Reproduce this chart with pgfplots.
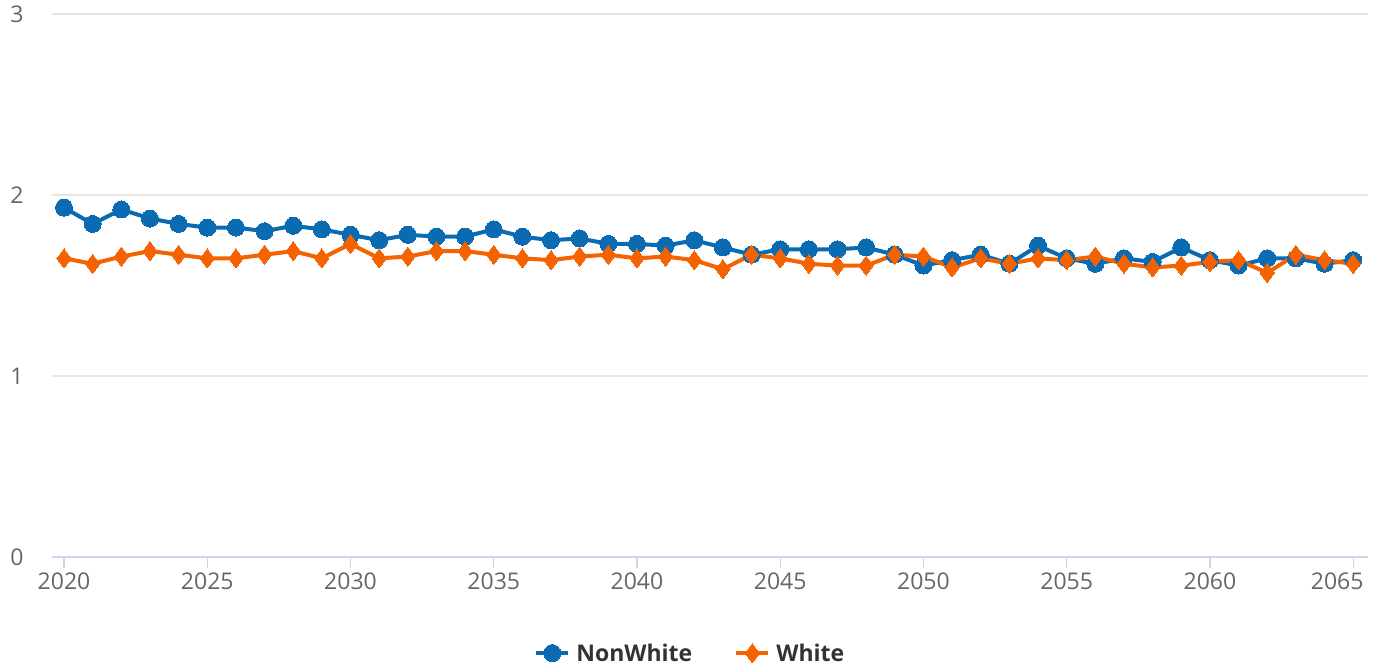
\documentclass[border=0pt]{standalone}
\usepackage{pgfplots}
\pgfplotsset{compat=1.18}
\usepackage{pgfplotstable}
\usepackage{fontspec}
\setmainfont{Open Sans}
\definecolor{nwblue}{HTML}{0A6BB3}
\definecolor{worange}{HTML}{F46300}
\definecolor{gridgray}{HTML}{E6E6E6}
\definecolor{axisblue}{HTML}{CCD6EB}
\definecolor{ticktext}{HTML}{666666}
\definecolor{legtext}{HTML}{333333}

\pgfplotstableread{
year nonwhite white
2020 1.93 1.65
2021 1.84 1.62
2022 1.92 1.66
2023 1.87 1.69
2024 1.84 1.67
2025 1.82 1.65
2026 1.82 1.65
2027 1.80 1.67
2028 1.83 1.69
2029 1.81 1.65
2030 1.78 1.73
2031 1.75 1.65
2032 1.78 1.66
2033 1.77 1.69
2034 1.77 1.69
2035 1.81 1.67
2036 1.77 1.65
2037 1.75 1.64
2038 1.76 1.66
2039 1.73 1.67
2040 1.73 1.65
2041 1.72 1.66
2042 1.75 1.64
2043 1.71 1.59
2044 1.67 1.67
2045 1.70 1.65
2046 1.70 1.62
2047 1.70 1.61
2048 1.71 1.61
2049 1.67 1.67
2050 1.61 1.66
2051 1.64 1.60
2052 1.67 1.65
2053 1.62 1.62
2054 1.72 1.65
2055 1.65 1.64
2056 1.62 1.66
2057 1.65 1.62
2058 1.63 1.60
2059 1.71 1.61
2060 1.64 1.63
2061 1.61 1.64
2062 1.65 1.57
2063 1.65 1.67
2064 1.62 1.64
2065 1.64 1.62
}\fertility

\begin{document}
\begin{tikzpicture}[x=1pt,y=1pt]
\useasboundingbox (0,0) rectangle (1380,668);
\begin{axis}[
    at={(52pt,111pt)}, anchor=south west,
    scale only axis,
    width=1316pt, height=543pt,
    xmin=2019.58, xmax=2065.52,
    ymin=0, ymax=3,
    xtick={2020,2025,...,2060},
    extra x ticks={2065},
    extra x tick style={xtick style={axisblue, line width=1.2pt},
        xticklabel style={xshift=-16pt}},
    ytick={0,1,2,3},
    axis x line*=bottom,
    axis y line*=left,
    x axis line style={axisblue, line width=2pt, -},
    y axis line style={draw=none},
    ymajorgrids,
    major grid style={gridgray, line width=1.2pt},
    tick align=outside,
    major tick length=11pt,
    xtick style={axisblue, line width=1.2pt},
    ytick style={draw=none},
    ticklabel style={font=\fontsize{23}{27}\selectfont, text=ticktext},
    xticklabel style={yshift=-1pt},
    yticklabel style={xshift=-14pt},
    /pgf/number format/.cd, 1000 sep={}, assume math mode=true,
    /pgfplots/.cd,
    legend style={at={(0.485,-0.177)}, anchor=center, draw=none,
        font=\fontsize{23}{27}\selectfont\bfseries, text=legtext,
        legend columns=2, column sep=4pt,
        /tikz/every even column/.append style={column sep=40pt}},
    legend cell align=left,
    legend image code/.code={
        \draw[mark repeat=2,mark phase=2,#1] plot coordinates {(0pt,0pt) (16pt,0pt) (32pt,0pt)};
    },
]
\addplot[nwblue, line width=4pt, mark=*, mark size=8.5pt,
    mark options={solid, fill=nwblue, draw=nwblue, line width=0pt}]
    table[x=year, y=nonwhite] {\fertility};
\addlegendentry{NonWhite}
\addplot[worange, line width=4pt, mark=diamond*, mark size=9.5pt,
    mark options={solid, fill=worange, draw=worange, line width=0pt}]
    table[x=year, y=white] {\fertility};
\addlegendentry{White}
\end{axis}
\end{tikzpicture}
\end{document}
